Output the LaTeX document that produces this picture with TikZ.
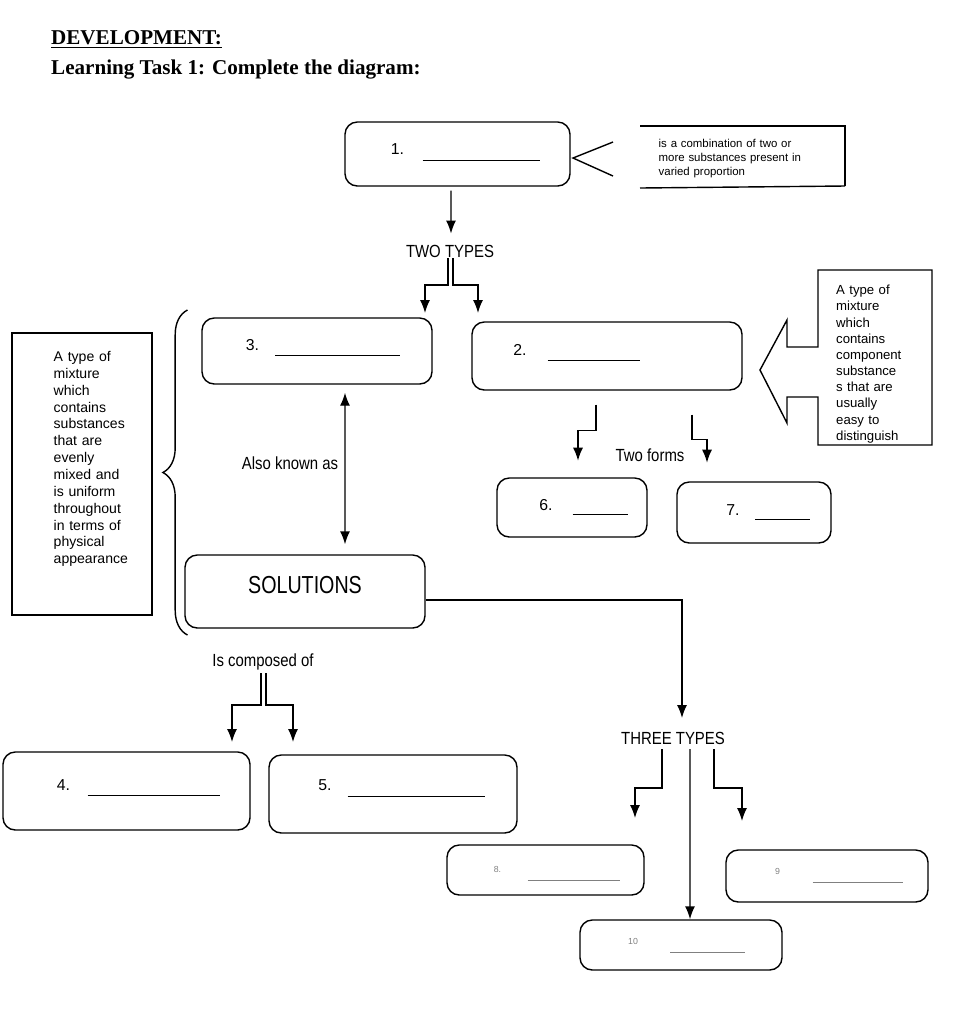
\documentclass[tikz,border=0pt]{standalone}
\usepackage{fontspec}
\setmainfont{Liberation Sans}
\newfontfamily\titlefont{Liberation Serif}
\usetikzlibrary{calc,arrows.meta,decorations.pathreplacing}

\tikzset{
  box/.style={draw,thick,rounded corners=7pt},
  lbl/.style={font=\fontsize{10}{12}\selectfont},
  note/.style={font=\fontsize{6.5}{8}\selectfont,align=left},
  arr/.style={-{Latex[length=2.6mm,width=2mm]},thick},
  blank/.style={font=\small}
}

\begin{document}
\begin{tikzpicture}[x=1cm,y=1cm]
  \useasboundingbox (0,0) rectangle (19.48,-20.48);
  % title
  \node[anchor=west,font=\titlefont\bfseries\large] (dev) at (0.9,-0.78) {\underline{DEVELOPMENT:}};
  \node[anchor=west,font=\titlefont\bfseries\large] (task) at (0.9,-1.4) {Learning Task 1: Complete the diagram:};

  % boxes
  \node[box,minimum width=4.5cm,minimum height=1.28cm] (b1) at (9.15,-3.08) {};
  \node[box,minimum width=4.6cm,minimum height=1.32cm] (b3) at (6.34,-7.02) {};
  \node[box,minimum width=5.4cm,minimum height=1.36cm] (b2) at (12.14,-7.12) {};
  \node[box,minimum width=3.0cm,minimum height=1.18cm] (b6) at (11.44,-10.15) {};
  \node[box,minimum width=3.08cm,minimum height=1.22cm] (b7) at (15.08,-10.25) {};
  \node[box,minimum width=4.8cm,minimum height=1.46cm] (sol) at (6.1,-11.83) {};
  \node[box,minimum width=4.94cm,minimum height=1.56cm] (b4) at (2.53,-15.82) {};
  \node[box,minimum width=4.96cm,minimum height=1.56cm] (b5) at (7.86,-15.88) {};
  \node[box,minimum width=3.94cm,minimum height=1.0cm] (b8) at (10.91,-17.4) {};
  \node[box,minimum width=4.04cm,minimum height=1.04cm] (b9) at (16.54,-17.52) {};
  \node[box,minimum width=4.04cm,minimum height=1.0cm] (b10) at (13.62,-18.9) {};

  % box texts
  \node[blank] (t1) at (7.95,-2.98) {1.};
  \draw (8.45,-3.2) -- (10.8,-3.2);
  \node[blank] (t3) at (5.05,-6.9) {3.};
  \draw (5.5,-7.1) -- (8.0,-7.1);
  \node[blank] (t2) at (10.4,-7.0) {2.};
  \draw (10.95,-7.2) -- (12.8,-7.2);
  \node[blank] (t6) at (10.92,-10.1) {6.};
  \draw (11.45,-10.28) -- (12.55,-10.28);
  \node[blank] (t7) at (14.66,-10.2) {7.};
  \draw (15.1,-10.38) -- (16.2,-10.38);
  \node[font=\fontsize{14}{16}\selectfont] (tsol) at (6.1,-11.7) {\scalebox{0.8}[1]{SOLUTIONS}};
  \node[blank] (t4) at (1.27,-15.7) {4.};
  \draw (1.75,-15.9) -- (4.4,-15.9);
  \node[blank] (t5) at (6.5,-15.7) {5.};
  \draw (6.95,-15.92) -- (9.7,-15.92);
  \node[font=\tiny,gray] (t8) at (9.95,-17.38) {8.};
  \draw[gray,very thin] (10.55,-17.6) -- (12.4,-17.6);
  \node[font=\tiny,gray] (t9) at (15.55,-17.42) {9};
  \draw[gray,very thin] (16.25,-17.65) -- (18.05,-17.65);
  \node[font=\tiny,gray] (t10) at (12.66,-18.82) {10};
  \draw[gray,very thin] (13.4,-19.05) -- (14.9,-19.05);

  % definition of mixture
  \draw[thick] (12.8,-2.52) -- (16.9,-2.52) -- (16.9,-3.72);
  \draw[thick] (12.8,-3.76) -- (16.9,-3.72);
  \node[note,text width=3.5cm,anchor=north west] (def1) at (13.05,-2.66)
    {is a combination of two or\\more substances present in\\varied proportion};
  \draw[thick] (12.26,-2.84) -- (11.46,-3.16) -- (12.26,-3.52);

  % heterogeneous callout
  \draw[thick] (16.36,-5.4) -- (18.64,-5.4) -- (18.64,-8.9) -- (16.36,-8.9) -- (16.36,-7.94)
    -- (15.74,-7.94) -- (15.74,-8.46) -- (15.2,-7.4) -- (15.74,-6.4) -- (15.74,-6.94)
    -- (16.36,-6.94) -- cycle;
  \node[note,font=\fontsize{7.5}{9.2}\selectfont,text width=2cm,anchor=north west] (def2) at (16.6,-5.58)
    {A type of\\mixture\\which\\contains\\component\\substance\\s that are\\usually\\easy to\\distinguish};

  % homogeneous definition
  \node[draw,thick,minimum width=2.8cm,minimum height=5.64cm] (def3) at (1.64,-9.48) {};
  \node[note,font=\fontsize{8}{9.6}\selectfont,text width=2.2cm,anchor=north west] (def3t) at (0.95,-6.9)
    {A type of\\mixture\\which\\contains\\substances\\that are\\evenly\\mixed and\\is uniform\\throughout\\in terms of\\physical\\appearance};
  \draw[thick,decorate,decoration={brace,amplitude=14pt,aspect=0.5}] (3.75,-12.7) -- (3.75,-6.2);

  % two types
  \node[lbl] (tt) at (9.0,-5.02) {\scalebox{0.85}[1]{TWO TYPES}};
  \draw[arr] ($(b1.south)+(-0.13,-0.08)$) -- ($(tt.north)+(0.02,0.1)$);
  \coordinate (tt1) at (8.96,-5.16);
  \coordinate (tt2) at (9.06,-5.16);
  \draw[arr] (tt1) -- ++(0,-0.54) -- ++(-0.46,0) -- ++(0,-0.56);
  \draw[arr] (tt2) -- ++(0,-0.54) -- ++(0.5,0) -- ++(0,-0.56);

  % two forms
  \node[lbl] (tf) at (13.0,-9.1) {\scalebox{0.85}[1]{Two forms}};
  \draw[arr] ($(b2.south)+(-0.22,-0.28)$) -- ++(0,-0.52) -- ++(-0.36,0) -- ++(0,-0.6);
  \draw[arr] ($(b2.south)+(1.7,-0.48)$) -- ++(0,-0.5) -- ++(0.3,0) -- ++(0,-0.46);

  % also known as
  \node[lbl] (akn) at (5.8,-9.26) {\scalebox{0.85}[1]{Also known as}};
  \draw[{Latex[length=2.6mm,width=2mm]}-{Latex[length=2.6mm,width=2mm]},thick]
    ($(b3.south)+(0.56,-0.16)$) -- ($(sol.north)+(0.8,0.2)$);

  % composed of
  \node[lbl] (comp) at (5.26,-13.24) {\scalebox{0.85}[1]{Is composed of}};
  \coordinate (cp1) at (5.22,-13.46);
  \coordinate (cp2) at (5.32,-13.46);
  \draw[arr] (cp1) -- ++(0,-0.64) -- ++(-0.58,0) -- ++(0,-0.74);
  \draw[arr] (cp2) -- ++(0,-0.64) -- ++(0.54,0) -- ++(0,-0.74);

  % three types
  \coordinate (sr) at ($(sol.east)+(0,-0.17)$);
  \draw[arr] (sr) -| (13.64,-14.36);
  \node[lbl] (thr) at (13.46,-14.76) {\scalebox{0.85}[1]{THREE TYPES}};
  \draw[arr] (13.24,-14.98) -- ++(0,-0.78) -- ++(-0.54,0) -- ++(0,-0.6);
  \draw[arr] (14.28,-14.98) -- ++(0,-0.78) -- ++(0.56,0) -- ++(0,-0.66);
  \draw[arr] (13.8,-14.98) -- ($(b10.north)+(0.18,0)$);
\end{tikzpicture}
\end{document}
